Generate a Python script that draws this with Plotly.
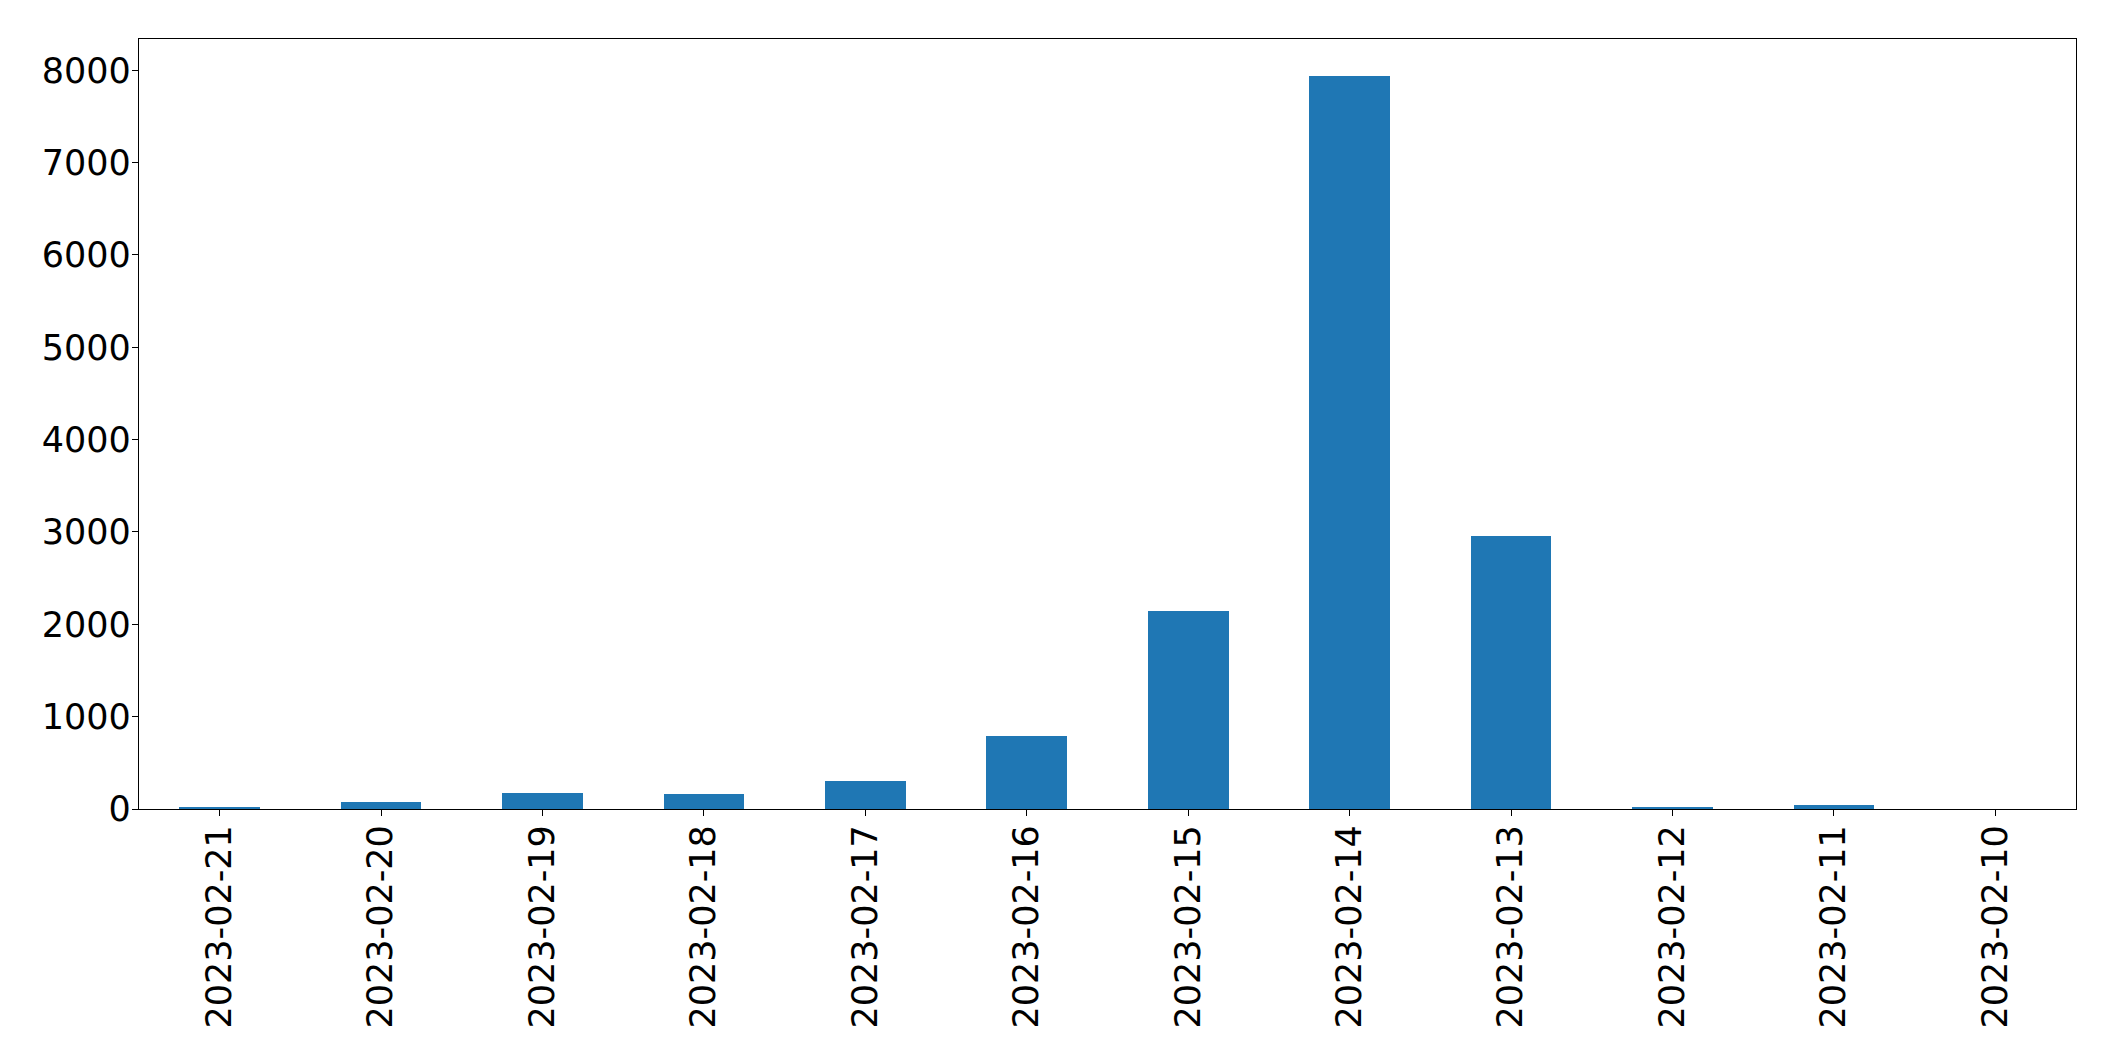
import plotly.graph_objects as go

dates = ["2023-02-21", "2023-02-20", "2023-02-19", "2023-02-18", "2023-02-17", "2023-02-16",
         "2023-02-15", "2023-02-14", "2023-02-13", "2023-02-12", "2023-02-11", "2023-02-10"]
counts = [14, 79, 177, 166, 307, 794, 2148, 7942, 2960, 25, 47, 0]
y_ticks = [0, 1000, 2000, 3000, 4000, 5000, 6000, 7000, 8000]

fig = go.Figure()
fig.add_trace(go.Bar(x=dates, y=counts, width=0.5, marker=dict(color="#1f77b4", line=dict(width=0))))

axis_common = dict(
    showline=True, linecolor="black", linewidth=1.3, mirror=True,
    ticks="outside", ticklen=6, tickwidth=1.3, tickcolor="black",
    showgrid=False, zeroline=False,
    tickfont=dict(family="DejaVu Sans", size=35, color="black"),
)

fig.update_layout(
    width=2115, height=1061,
    margin=dict(l=139, r=39, t=39, b=252, autoexpand=False),
    paper_bgcolor="white", plot_bgcolor="white",
    showlegend=False,
    bargap=0,
)
fig.update_xaxes(type="category", range=[-0.5, 11.5], tickangle=-90, ticklabelstandoff=-5, **axis_common)
fig.update_yaxes(range=[0, max(counts) * 1.05], tickvals=y_ticks, ticktext=[str(v) for v in y_ticks],
                 ticklabelstandoff=-6, **axis_common)

fig.write_html("out.html")
